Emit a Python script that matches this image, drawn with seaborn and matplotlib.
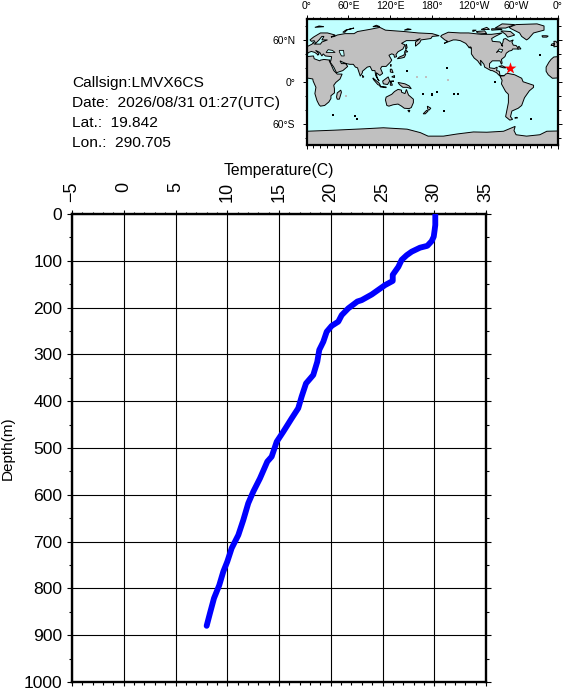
import matplotlib
matplotlib.use("Agg")
import matplotlib.pyplot as plt
import pandas as pd
import seaborn as sns

W, H = 564, 690

# Profile values
TEMP = [30.1, 30.1, 30.04, 29.95, 29.75, 29.33, 28.62, 27.82, 27.34, 26.85, 26.53, 26.21,
        25.99, 25.99, 25.24, 24.6, 23.96, 22.99, 22.57, 21.7, 21.06, 20.73, 20.09, 19.61,
        19.28, 18.89, 18.7, 18.31, 17.61, 17.19, 16.86, 16.23, 15.42, 14.78, 14.29, 13.87,
        13.16, 12.52, 12.03, 11.55, 11.07, 10.43, 10.0, 9.62, 9.23, 8.72, 8.33, 8.01]
DEPTH = [1, 23.5, 34, 48.5, 58, 68, 72, 80.5, 88, 98, 113, 123,
         130, 143, 152, 162, 172, 184, 187, 201.5, 216, 230, 239, 251.5,
         273, 290.5, 315.5, 344, 362, 390, 415, 436.5, 465, 486.5, 518.5, 529,
         565, 593, 618, 654, 686, 714, 743, 764, 793, 821, 853, 880]

INFO_LINES = ["Callsign:LMVX6CS", "Date:  2026/08/31 01:27(UTC)", "Lat.:  19.842", "Lon.:  290.705"]
SHIP_LON = [290.705]
SHIP_LAT = [19.842]

TEMP_TICKS = [-5, 0, 5, 10, 15, 20, 25, 30, 35]
DEPTH_TICKS = [0, 100, 200, 300, 400, 500, 600, 700, 800, 900, 1000]
LON_TICKS = [0, 60, 120, 180, 240, 300, 360]
LON_LABELS = ["0°", "60°E", "120°E", "180°", "120°W", "60°W", "0°"]
LAT_TICKS = [-60, 0, 60]
LAT_LABELS = ["60°S", "0°", "60°N"]

# Land outlines, lon 0-360 / lat
AFRICA_E = [(0, 5.5), (9, 4), (9.5, 1), (13.5, -8), (12, -17), (15, -27), (18, -33), (20, -35), (26, -34),
            (32, -29), (35, -24), (35, -20), (40, -16), (40, -10), (39, -5), (42, -1), (48, 4), (51, 11),
            (44, 11), (43, 12), (39, 16), (35, 25), (32.5, 30), (34, 31), (25, 32), (20, 31), (19, 30),
            (11, 33), (10, 37), (0, 36)]
AFRICA_W = [(360, 36), (354, 35.5), (350, 32), (347, 28), (343, 21), (343, 15), (346, 10), (352, 5), (360, 5.5)]
EURASIA = [(0, 39), (3, 42), (7, 43.5), (12, 42), (16, 39), (16, 38), (18, 40), (13, 45), (19, 42), (22, 37),
           (24, 40), (27, 37), (36, 36), (35, 31), (34, 28), (39, 21), (43, 13), (52, 16), (59, 22), (56, 26),
           (50, 26), (48, 30), (52, 28), (57, 26), (62, 25), (67, 25), (70, 21), (73, 20), (77, 8), (80, 13),
           (80, 15), (87, 21), (91, 22), (94, 16), (98, 16), (99, 9), (103, 2), (104, 1), (101, 6), (100, 13),
           (105, 9), (109, 12), (106, 19), (108, 22), (114, 22), (120, 28), (122, 31), (118, 38), (122, 40),
           (125, 39), (126, 35), (129, 36), (128, 39), (131, 43), (138, 47), (141, 53), (136, 55), (143, 59),
           (155, 59), (163, 62), (156, 57), (156, 51), (162, 56), (164, 60), (178, 62), (180, 65), (190, 66),
           (180, 69), (160, 70), (140, 72), (113, 74), (105, 78), (90, 75), (73, 72), (68, 69), (55, 69),
           (44, 67), (40, 65), (35, 64), (41, 67), (30, 70), (20, 70), (10, 64), (5, 60), (7, 58), (11, 59),
           (13, 55), (18, 60), (22, 65), (25, 65), (22, 60), (30, 60), (22, 57), (20, 54), (11, 54), (10, 57),
           (8, 54), (4, 52), (0, 50)]
N_AMERICA = [(192, 65), (198, 60), (202, 58), (197, 55), (202, 57), (210, 60), (214, 60), (220, 59), (228, 55),
             (232, 50), (236, 48), (236, 40), (240, 34), (245, 30), (250, 23), (249, 31), (254, 25), (255, 21),
             (264, 16), (266, 16), (272, 13), (276, 9), (282, 9), (283, 8.5), (277, 8.5), (276, 15), (272, 16), (273, 21),
             (269, 19), (262, 20), (262, 26), (266, 30), (277, 30), (279, 25), (280, 27), (279, 32), (284, 36),
             (286, 41), (290, 44), (294, 45), (295, 47), (299, 47), (304, 47), (300, 52), (296, 52.5), (294, 57),
             (296, 60), (291, 58), (285, 62), (282, 61), (281, 56), (279, 52), (281, 51), (277, 57), (266, 58),
             (265, 62), (270, 65), (276, 68), (280, 70), (265, 68), (250, 68), (232, 70), (220, 70), (203, 71),
             (194, 67)]
S_AMERICA = [(283, 8.5), (277, 8), (280, 2), (279, -3), (285, -14), (289, -18), (289, -30), (287, -40), (285, -50),
             (291, -55), (295, -54), (292, -50), (294, -42), (303, -38), (308, -34), (312, -23), (319, -13),
             (325, -8), (325, -5), (310, 0), (308, 5), (298, 10), (288, 12), (285, 11)]
AUSTRALIA = [(114, -22), (113, -26), (115, -34), (118, -35), (124, -33), (131, -32), (136, -35), (140, -38),
             (147, -38.5), (150, -37), (153, -30), (153, -25), (146, -19), (143, -11), (141, -17), (136, -15),
             (136, -12), (131, -11), (126, -14), (122, -18)]
GREENLAND = [(315, 60), (308, 65), (305, 70), (293, 76), (290, 78), (300, 82), (330, 83), (340, 80), (340, 74),
             (325, 70), (318, 62)]
ANTARCTICA = [(0, -71), (39, -69.5), (82, -67.5), (110, -66), (144, -68), (163, -73), (174, -78), (196, -78),
              (215, -75), (239, -72), (258, -72.4), (282, -71), (298.7, -64), (297, -70), (300, -76), (315, -78),
              (334, -76), (344, -71), (360, -70.6), (360, -90), (0, -90)]
ISLANDS = [
    [(44, -25), (47, -25), (50, -15), (49, -12), (44, -16), (43, -22)],
    [(80, 9.5), (82, 7), (80.5, 6)],
    [(0, 51), (1.5, 52.5), (0, 54)],
    [(360, 51), (354, 50), (355, 54), (354, 58), (357, 58), (360, 54)],
    [(350, 52), (354, 52), (354, 55), (351, 54)],
    [(338, 64), (344, 64), (346, 65.5), (343, 66), (337, 66)],
    [(130, 33), (136, 34), (140, 35), (142, 39), (141, 41), (139, 38), (133, 35.5)],
    [(140, 42), (145, 43), (142, 45.5)],
    [(142, 46), (144, 49), (143, 54), (142, 52)],
    [(95, 5.5), (104, -2), (106, -6), (102, -4), (96, 3)],
    [(105, -6.5), (114, -7.5), (114, -8.5), (106, -7.5)],
    [(109, 1), (117, 7), (119, 1), (116, -4), (110, -3)],
    [(120, 1), (125, 1), (121, 0), (123, -5), (120, -5)],
    [(131, -1), (141, -3), (147, -6), (150, -10), (144, -8), (138, -8), (133, -4)],
    [(120, 18), (122, 18), (124, 13), (120, 14)],
    [(122, 7), (126, 9), (126, 6)],
    [(121, 25), (121, 22), (120, 23)],
    [(173, -35), (178, -38), (175, -41), (173.5, -39)],
    [(172, -41), (174, -42), (170, -46), (167, -46)],
    [(145, -41), (148, -41), (147, -43.5)],
    [(52, 71), (56, 74), (68, 77), (58, 74.5), (55, 71)],
    [(12, 78), (25, 79), (18, 80)],
    [(95, 79), (105, 79), (100, 81)],
    [(140, 74), (150, 75), (145, 76)],
    [(275, 22), (280, 23), (286, 20), (282, 20)],
    [(288.5, 19.5), (291.5, 19), (291, 18), (287.5, 18)],
    [(288, 64), (295, 66), (298, 67), (292, 72), (278, 73), (285, 68)],
    [(245, 70), (258, 69), (255, 73), (243, 72)],
    [(270, 77), (285, 77), (298, 82), (280, 83)],
    [(238, 72), (243, 74), (238, 74)],
    [(265, 74), (280, 75), (278, 76), (265, 76)],
    [(250, 75), (262, 75), (258, 78)],
    [(298, -52), (302, -52), (301, -51)],
    [(235, 50), (232, 49), (236, 48.5)],
    [(302, 47), (307, 47), (304, 51)],
]
INLAND_WATER = [
    [(28, 42), (31, 46), (37, 45), (41, 42), (35, 42)],
    [(47, 45), (53, 45), (54, 37), (50, 37), (47, 43)],
    [(272, 42), (276, 47), (281, 46), (279, 42), (275, 44)],
]
DARK_LON = [201, 179.5, 167, 38, 70, 73, 187, 180, 211, 217, 197, 270, 322, 334, 144]
DARK_LAT = [20, -18.5, -18, -47, -49, -53, -14, -17, -17, -17, -42, -0.7, -54, 38, 15]
PALE_LON = [158, 171, 202, 56]
PALE_LAT = [7, 7, 3, -21]


def px_axes(fig, left, top, right, bottom):
    return fig.add_axes([left / W, 1 - bottom / H, (right - left) / W, (bottom - top) / H])


sns.set_theme(style="ticks")
plt.rcParams["font.family"] = ["Liberation Sans", "DejaVu Sans"]
plt.rcParams["text.color"] = "black"

fig = plt.figure(figsize=(W / 100, H / 100), dpi=100, facecolor="white")

# Temperature profile
ax = px_axes(fig, 72, 214, 486, 682)
profile = pd.DataFrame({"temp": TEMP, "depth": DEPTH})
sns.lineplot(data=profile, x="temp", y="depth", sort=False, estimator=None, color="#0000ff",
             linewidth=4.2, solid_capstyle="round", ax=ax, zorder=5)
ax.set_xlim(-5, 35)
ax.set_ylim(1000, 0)
ax.set_xticks(TEMP_TICKS)
ax.set_xticks(range(-5, 36), minor=True)
ax.set_yticks(DEPTH_TICKS)
ax.set_yticks(range(0, 1001, 50), minor=True)
ax.grid(True, which="major", color="black", linewidth=0.8)
ax.set_axisbelow(True)
for side in ax.spines.values():
    side.set_linewidth(1.7)
    side.set_color("black")
ax.tick_params(axis="x", which="major", top=True, bottom=True, labeltop=True, labelbottom=False,
               length=3.2, width=0.8, color="black", labelsize=13, pad=20, labelrotation=90)
ax.tick_params(axis="x", which="minor", top=True, bottom=True, length=1.8, width=0.8, color="black")
ax.tick_params(axis="y", which="major", left=True, right=True, length=3.6, width=0.8, color="black",
               labelsize=12.6, pad=3.5)
ax.tick_params(axis="y", which="minor", left=True, right=True, length=2, width=0.8, color="black")
ax.set_xticklabels(["\u22125" if t < 0 else str(t) for t in TEMP_TICKS])
for lab in ax.xaxis.get_majorticklabels():
    lab.set_verticalalignment("top")
    lab.set_color("black")
for lab in ax.get_yticklabels():
    lab.set_color("black")
ax.xaxis.set_label_position("top")
ax.set_xlabel("Temperature(C)", fontsize=11.3, color="black")
ax.xaxis.set_label_coords(0.5, 1 + 38.5 / 468)
ax.set_ylabel("Depth(m)", fontsize=11, color="black")
ax.yaxis.set_label_coords(-57.5 / 414, 0.5)

# Map inset
mp = px_axes(fig, 306.5, 19, 558, 144.5)
mp.set_facecolor("#c0ffff")
for poly in [AFRICA_E, AFRICA_W, EURASIA, N_AMERICA, S_AMERICA, AUSTRALIA, GREENLAND, ANTARCTICA] + ISLANDS:
    xs, ys = zip(*poly)
    mp.fill(xs, ys, facecolor="#c0c0c0", edgecolor="black", linewidth=0.7)
for poly in INLAND_WATER:
    xs, ys = zip(*poly)
    mp.fill(xs, ys, facecolor="#c0ffff", edgecolor="black", linewidth=0.6)
sns.scatterplot(x=DARK_LON, y=DARK_LAT, marker="s", s=1.5, color="black", linewidth=0, ax=mp)
sns.scatterplot(x=PALE_LON, y=PALE_LAT, marker="s", s=2, color="#c0c0c0", linewidth=0, ax=mp)
sns.scatterplot(x=SHIP_LON, y=SHIP_LAT, marker="*", s=80, color="#ff0000", linewidth=0, ax=mp, zorder=6)
mp.set_xlim(0, 360)
mp.set_ylim(-90, 90)
mp.set_xticks(LON_TICKS, LON_LABELS)
mp.set_xticks(range(0, 361, 10), minor=True)
mp.set_yticks(LAT_TICKS, LAT_LABELS)
mp.set_yticks(range(-80, 81, 20), minor=True)
for side in mp.spines.values():
    side.set_linewidth(1.6)
    side.set_color("black")
mp.tick_params(axis="x", which="major", top=True, bottom=True, labeltop=True, labelbottom=False,
               length=3, width=0.7, color="black", labelsize=7.5, labelcolor="black", pad=3)
mp.tick_params(axis="x", which="minor", top=True, bottom=True, length=1.8, width=0.7, color="black")
mp.tick_params(axis="y", which="major", left=True, right=True, length=3, width=0.7, color="black",
               labelsize=7.5, labelcolor="black", pad=5)
mp.tick_params(axis="y", which="minor", left=True, right=True, length=1.8, width=0.7, color="black")

# Cruise information
for line, base in zip(INFO_LINES, [87, 107, 127, 147]):
    fig.text(72.5 / W, 1 - base / H, line, fontsize=11.15, color="black", ha="left", va="baseline")

fig.savefig("out.png", dpi=100, facecolor="white")
